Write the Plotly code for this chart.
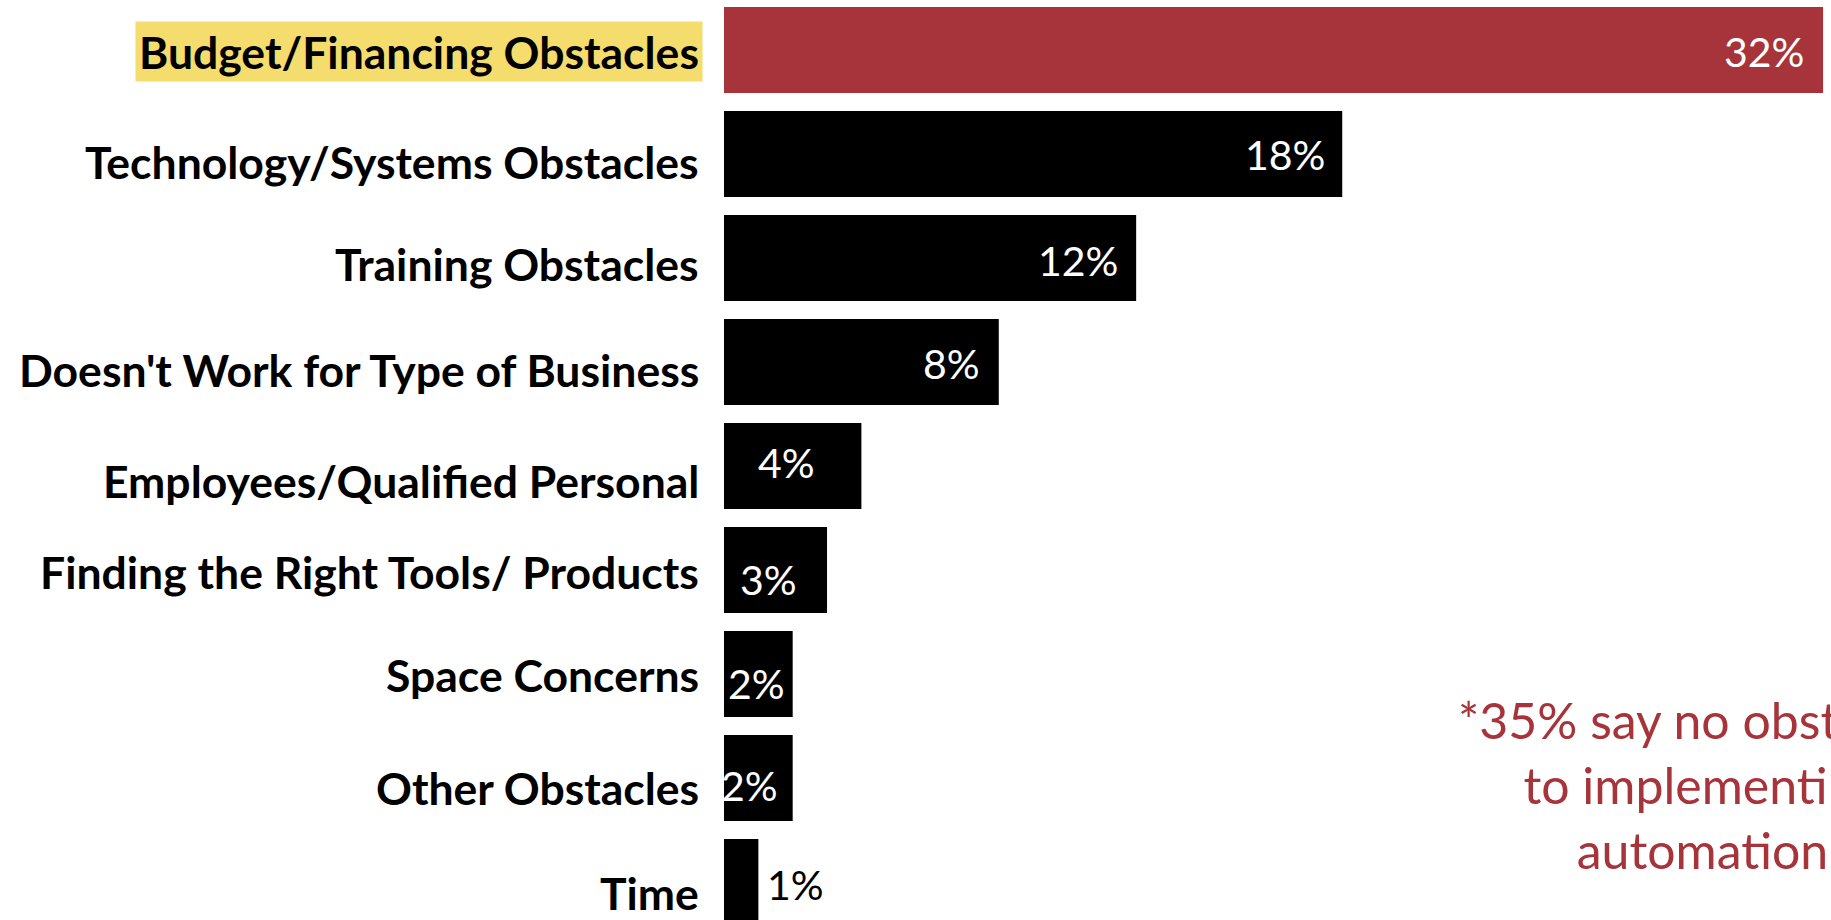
import plotly.graph_objects as go

# Survey results: obstacles to implementing automation (% of respondents)
categories = [
    "Budget/Financing Obstacles",
    "Technology/Systems Obstacles",
    "Training Obstacles",
    "Doesn't Work for Type of Business",
    "Employees/Qualified Personal",
    "Finding the Right Tools/ Products",
    "Space Concerns",
    "Other Obstacles",
    "Time",
]
values = [32, 18, 12, 8, 4, 3, 2, 2, 1]
value_labels = [f"{v}%" for v in values]
note_lines = ["*35% say no obstacles", "to implementing", "automation"]

# Styling
RED = "#A6343A"
BLACK = "#000000"
HIGHLIGHT = "#F4DC6D"
bar_colors = [RED] + [BLACK] * (len(values) - 1)

# Per-label pixel nudges (value labels sit at the bar end, category labels left of the axis)
value_dx = [-17, -15, -16, -17, -44, -28, -6, -13, 68]
value_dy = [-1, 0, -2, -1, 4, -9, -9, -7, -2]
value_color = ["white"] * 8 + ["black"]
cat_dy = [-1, -7, -5, -7, -14, -1, 0, -9, -10]

fig = go.Figure(
    go.Bar(
        x=values,
        y=categories,
        orientation="h",
        marker=dict(color=bar_colors, line=dict(width=0)),
        width=0.827,
        hoverinfo="skip",
    )
)

annotations = []
for i, (cat, v, lab) in enumerate(zip(categories, values, value_labels)):
    # category label to the left of the bars; only the top one is highlighted
    pad = 3 if i == 0 else 0
    annotations.append(dict(
        x=0, y=cat, xref="x", yref="y",
        text=cat, showarrow=False,
        xanchor="right", yanchor="middle",
        xshift=-24 + pad, yshift=cat_dy[i],
        borderpad=pad,
        bgcolor=HIGHLIGHT if i == 0 else "rgba(0,0,0,0)",
        font=dict(family="Lato", size=44.5, color="black", weight=700),
    ))
    # value label
    annotations.append(dict(
        x=v, y=cat, xref="x", yref="y",
        text=lab, showarrow=False,
        xanchor="right", yanchor="middle",
        xshift=value_dx[i], yshift=value_dy[i],
        font=dict(family="Lato", size=41, color=value_color[i]),
    ))

annotations.append(dict(
    x=0.8835, y=0.147, xref="paper", yref="paper",
    text="<br>".join(note_lines), showarrow=False,
    xanchor="center", yanchor="middle", align="center",
    font=dict(family="Lato", size=50, color=RED),
))

fig.update_layout(
    width=1831,
    height=920,
    margin=dict(l=724, r=0, t=0, b=0),
    paper_bgcolor="white",
    plot_bgcolor="white",
    showlegend=False,
    xaxis=dict(range=[0, 32.23], visible=False, fixedrange=True),
    yaxis=dict(
        type="category",
        categoryorder="array",
        categoryarray=categories,
        range=[8.365, -0.481],
        showticklabels=False,
        showgrid=False,
        zeroline=False,
        showline=False,
        ticks="",
        fixedrange=True,
    ),
    annotations=annotations,
)

fig.write_html("out.html", config={"displayModeBar": False})
